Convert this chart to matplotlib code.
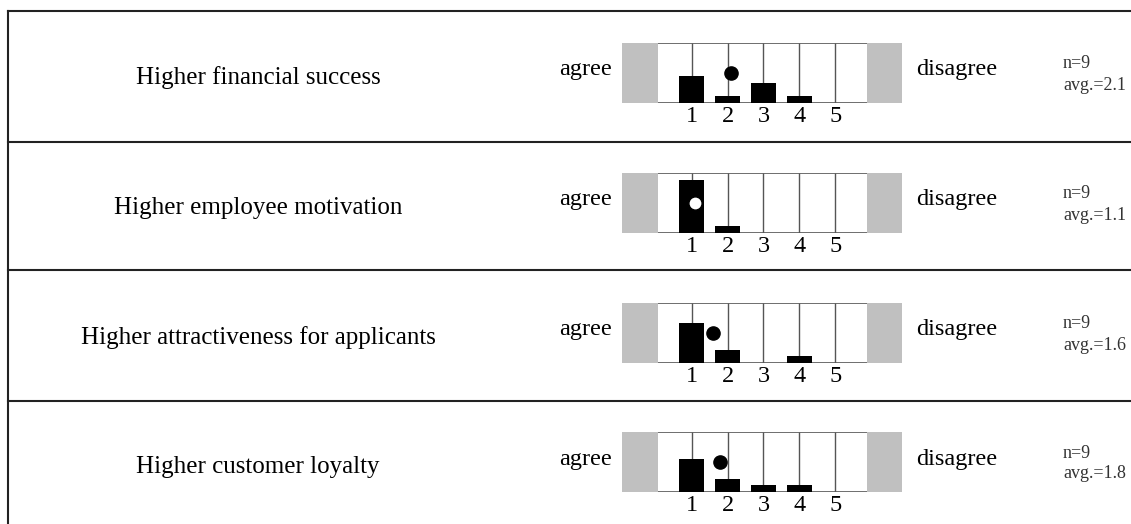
import numpy as np
import matplotlib
matplotlib.use("Agg")
import matplotlib.pyplot as plt

plt.rcParams['font.family'] = ['Liberation Serif', 'DejaVu Serif']

# data
statements = ["Higher financial success",
              "Higher employee motivation",
              "Higher attractiveness for applicants",
              "Higher customer loyalty"]
scale = [1, 2, 3, 4, 5]
counts = [[4, 1, 3, 1, 0],
          [8, 1, 0, 0, 0],
          [6, 2, 0, 1, 0],
          [5, 2, 1, 1, 0]]
n_resp = [9, 9, 9, 9]
averages = [2.1, 1.1, 1.6, 1.8]

W, H = 1131, 524
fig = plt.figure(figsize=(W / 100, H / 100), dpi=100)

# background axes in pixel coords for frame and texts
bg = fig.add_axes([0, 0, 1, 1])
bg.set_xlim(0, W)
bg.set_ylim(H, 0)
bg.axis('off')

row_lines = [11, 142, 270, 401]
box_tops = [43, 173, 303, 432]
box_h = 60
label_x = 258
fs = 17.5

bg.plot([8, 8], [11, H], color='#222222', lw=1.5)
for y in row_lines:
	bg.plot([8, W], [y, y], color='#222222', lw=1.5)

unit = 35.9
x_one = 691.7
xmin, xmax = -0.93, 6.87

for i, name in enumerate(statements):
	top = box_tops[i]
	mid = top + box_h / 2
	bg.text(label_x, mid + 5, name, ha='center', va='center', fontsize=18)
	bg.text(612, mid - 3, "agree", ha='right', va='center', fontsize=fs)
	bg.text(916, mid - 3, "disagree", ha='left', va='center', fontsize=fs)
	bg.text(1063, mid - 9, "n=%d" % n_resp[i], ha='left', va='center', fontsize=13, color='#333333')
	bg.text(1063, mid + 12, "avg.=%.1f" % averages[i], ha='left', va='center', fontsize=13, color='#333333')

	left_px = x_one + (xmin - 1) * unit
	width_px = (xmax - xmin) * unit
	ax = fig.add_axes([left_px / W, 1 - (top + box_h) / H, width_px / W, box_h / H])
	n = n_resp[i]
	ax.set_xlim(xmin, xmax)
	ax.set_ylim(0, n)
	ax.axvspan(xmin, 0.06, color='#c0c0c0', lw=0)
	ax.axvspan(5.88, xmax, color='#c0c0c0', lw=0)
	ax.hlines([0, n], 0.06, 5.88, color='#555555', lw=1.2)
	ax.vlines(scale, 0, n, color='#555555', lw=1.0)
	ax.bar(scale, counts[i], width=0.7, color='black', zorder=3)

	avg = averages[i]
	k = int(round(avg)) - 1
	inside = abs(avg - scale[k]) < 0.35 and counts[i][k] > n / 2
	ax.plot([avg], [n / 2], marker='o', markersize=9.5, linestyle='',
	        markerfacecolor='white' if inside else 'black',
	        markeredgecolor='black', markeredgewidth=1, zorder=4)

	ax.set_xticks(scale)
	ax.set_xticklabels([str(s) for s in scale], fontsize=fs)
	ax.tick_params(axis='x', length=0, pad=2)
	ax.set_yticks([])
	for s in ax.spines.values():
		s.set_visible(False)
	ax.patch.set_alpha(0)

fig.savefig("out.png", dpi=100)
